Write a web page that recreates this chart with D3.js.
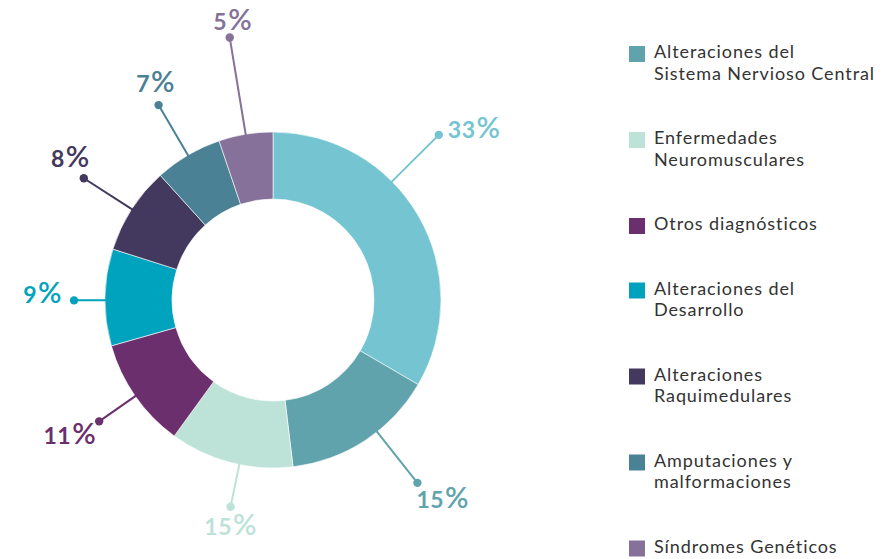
<!DOCTYPE html>
<html>
<head>
<meta charset="utf-8">
<script src="https://cdn.jsdelivr.net/npm/d3@7"></script>
<style>
  body { margin: 0; background: #fff; }
</style>
</head>
<body>
<div class="div_chart"></div>
<script>
// slice shares as drawn (labels show the rounded figures)
const categories = [
  '',
  'Alteraciones del\nSistema Nervioso Central',
  'Enfermedades\nNeuromusculares',
  'Otros diagnósticos',
  'Alteraciones del\nDesarrollo',
  'Alteraciones\nRaquimedulares',
  'Amputaciones y\nmalformaciones',
  'Síndromes Genéticos'
];
const values = [33.4, 14.7, 11.9, 10.6, 9.3, 8.4, 6.5, 5.2];
const labels = ['33%', '15%', '15%', '11%', '9%', '8%', '7%', '5%'];
const colors = ['#74c5d1', '#60a3ad', '#bde2d8', '#6a2f6c', '#00a3be', '#43385e', '#4a8195', '#857199'];

// leader layout: angle shift (deg), leader radius, text offset from dot
const leaders = [
  {shift: -15, len: 234, dx: 9, dy: 3, anchor: 'start'},
  {shift: -5, len: 233, dx: -1, dy: 25, anchor: 'start'},
  {shift: -3, len: 211, dx: 0, dy: 28, anchor: 'middle'},
  {shift: 0, len: 212, dx: -3, dy: 23, anchor: 'end'},
  {shift: -1, len: 199, dx: -12, dy: 3, anchor: 'end'},
  {shift: 0, len: 225, dx: 6, dy: -11, anchor: 'end'},
  {shift: 0, len: 226, dx: -3, dy: -13, anchor: 'middle'},
  {shift: 0, len: 266, dx: 3, dy: -8, anchor: 'middle'}
];

const width = 894, height = 559;
const cx = 273, cy = 300;
const outerR = 168, innerR = 101;

const svg = d3.select('.div_chart')
  .append('svg')
    .attr('width', width)
    .attr('height', height);

const data = values.map((v, i) => ({i, value: v}));

const pie = d3.pie()
  .value(d => d.value)
  .sort(null)
  .startAngle(0)
  .endAngle(2 * Math.PI);

const arc = d3.arc()
  .innerRadius(innerR)
  .outerRadius(outerR);

const arcs = pie(data);

const g = svg.append('g')
  .attr('transform', `translate(${cx},${cy})`);

g.selectAll('path.slice')
  .data(arcs)
  .enter()
  .append('path')
    .attr('class', 'slice')
    .attr('d', arc)
    .attr('fill', d => colors[d.data.i])
    .attr('stroke', '#fff')
    .attr('stroke-width', 0.6);

// leader lines
const polar = (a, r) => [r * Math.sin(a), -r * Math.cos(a)];

const lead = g.selectAll('g.lead')
  .data(arcs)
  .enter()
  .append('g')
    .attr('class', 'lead');

lead.each(function(d) {
  const L = leaders[d.data.i];
  const a = (d.startAngle + d.endAngle) / 2 + L.shift * Math.PI / 180;
  const p0 = polar(a, outerR - 1);
  const p1 = polar(a, L.len);
  const sel = d3.select(this);
  const c = colors[d.data.i];
  sel.append('line')
    .attr('x1', p0[0]).attr('y1', p0[1])
    .attr('x2', p1[0]).attr('y2', p1[1])
    .attr('stroke', c)
    .attr('stroke-width', 2);
  sel.append('circle')
    .attr('cx', p1[0]).attr('cy', p1[1])
    .attr('r', 4.2)
    .attr('fill', c);
  const lbl = labels[d.data.i];
  const t = sel.append('text')
    .attr('x', p1[0] + L.dx)
    .attr('y', p1[1] + L.dy)
    .attr('text-anchor', L.anchor)
    .attr('font-family', 'Lato, sans-serif')
    .attr('font-weight', 'bold')
    .attr('font-size', '23px')
    .attr('letter-spacing', '0.5px')
    .attr('fill', c);
  t.append('tspan').text(lbl.slice(0, -1));
  t.append('tspan')
    .attr('dx', 1)
    .attr('font-size', '29px')
    .attr('font-weight', '600')
    .text('%');
});

// legend
const legendX = 629, lineH = 21.5, gap = 43;
let yPos = 58;
const legendItems = [];
categories.forEach((name, i) => {
  if (!name) return;
  const lines = name.split('\n');
  legendItems.push({i, lines, y: yPos});
  yPos += lines.length * lineH + gap;
});

const legend = svg.append('g');
const item = legend.selectAll('g')
  .data(legendItems)
  .enter()
  .append('g')
    .attr('transform', d => `translate(${legendX},${d.y})`);

item.append('rect')
  .attr('x', 0)
  .attr('y', -12)
  .attr('width', 16)
  .attr('height', 16)
  .attr('fill', d => colors[d.i]);

item.append('text')
  .attr('x', 25)
  .attr('y', 0)
  .attr('font-family', 'Lato, sans-serif')
  .attr('font-size', '18px')
  .attr('letter-spacing', '0.9px')
  .attr('fill', '#333')
  .selectAll('tspan')
  .data(d => d.lines)
  .enter()
  .append('tspan')
    .attr('x', 25)
    .attr('dy', (l, j) => j === 0 ? 0 : lineH)
    .text(l => l);
</script>
</body>
</html>
